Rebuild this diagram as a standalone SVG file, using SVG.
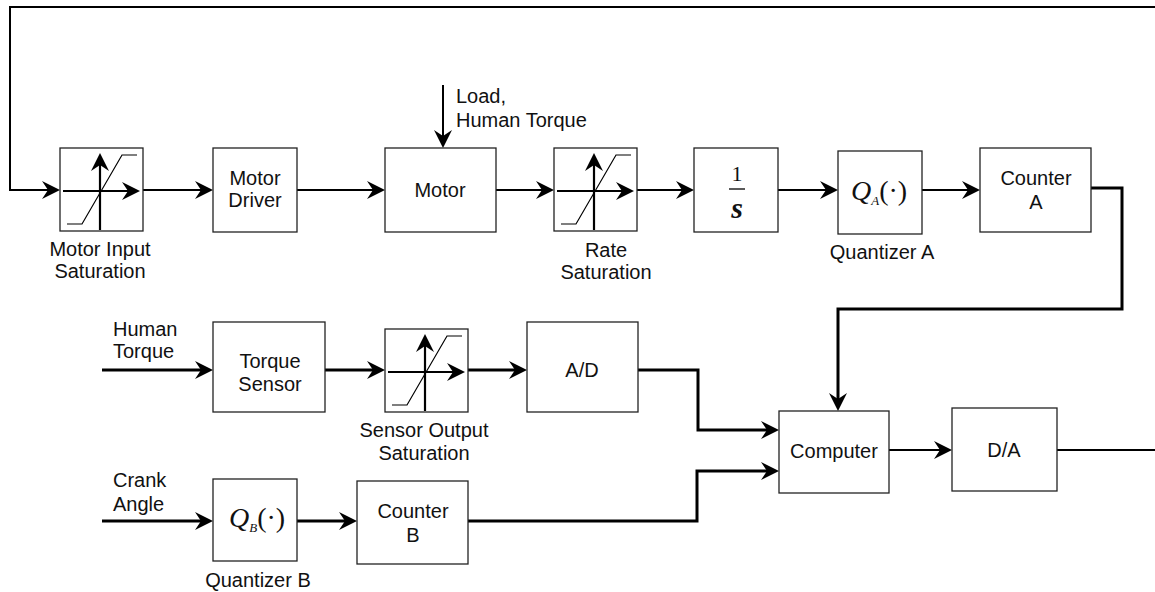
<svg xmlns="http://www.w3.org/2000/svg" width="1155" height="592" viewBox="0 0 1155 592">
<style>
.box{fill:#fff;stroke:#222;stroke-width:1.3}
.t{font-family:"Liberation Sans",Arial,sans-serif;font-size:20px;fill:#111;text-anchor:middle}
.tl{font-family:"Liberation Sans",Arial,sans-serif;font-size:20px;fill:#111}
.m{font-family:"Liberation Serif","Times New Roman",serif;fill:#111}
.w2{fill:none;stroke:#000;stroke-width:2}
.w3{fill:none;stroke:#000;stroke-width:3}
.ax{fill:none;stroke:#000;stroke-width:2.2}
.cv{fill:none;stroke:#000;stroke-width:1.2}
</style>
<defs>
<marker id="ah" markerUnits="userSpaceOnUse" markerWidth="26" markerHeight="26" viewBox="-22 -13 26 26" refX="-5" refY="0" orient="auto">
<path d="M0,0 L-18,-9 L-12,0 L-18,9 Z" fill="#000"/>
</marker>
<g id="sat">
<rect class="box" x="0" y="0" width="83" height="83"/>
<path class="cv" d="M7,76 L22,76 L62,7 L77,7"/>
<line class="ax" x1="40" y1="82" x2="40" y2="10" marker-end="url(#ah)"/>
<line class="ax" x1="3" y1="43" x2="75" y2="43" marker-end="url(#ah)"/>
</g>
</defs>

<g id="connectors">
<path class="w2" d="M1155,7 L10,7 L10,190 L55,190" marker-end="url(#ah)"/>
<line class="w2" x1="143" y1="190" x2="208" y2="190" marker-end="url(#ah)"/>
<line class="w2" x1="297" y1="190" x2="380" y2="190" marker-end="url(#ah)"/>
<line class="w2" x1="443" y1="85" x2="443" y2="143" marker-end="url(#ah)"/>
<line class="w2" x1="496" y1="190" x2="549" y2="190" marker-end="url(#ah)"/>
<line class="w2" x1="637" y1="190" x2="689" y2="190" marker-end="url(#ah)"/>
<line class="w2" x1="778" y1="190" x2="833" y2="190" marker-end="url(#ah)"/>
<line class="w2" x1="922" y1="190" x2="975" y2="190" marker-end="url(#ah)"/>
<path class="w3" d="M1091,188 L1122,188 L1122,309 L838,309 L838,406" marker-end="url(#ah)"/>
<line class="w3" x1="102" y1="370" x2="208" y2="370" marker-end="url(#ah)"/>
<line class="w3" x1="325" y1="370" x2="380" y2="370" marker-end="url(#ah)"/>
<line class="w3" x1="468" y1="370" x2="522" y2="370" marker-end="url(#ah)"/>
<path class="w3" d="M638,370 L698,370 L698,430 L774,430" marker-end="url(#ah)"/>
<line class="w3" x1="102" y1="521" x2="208" y2="521" marker-end="url(#ah)"/>
<line class="w3" x1="297" y1="521" x2="352" y2="521" marker-end="url(#ah)"/>
<path class="w3" d="M468,521 L697,521 L697,471 L774,471" marker-end="url(#ah)"/>
<line class="w2" x1="889" y1="450" x2="947" y2="450" marker-end="url(#ah)"/>
<line class="w2" x1="1057" y1="450" x2="1155" y2="450"/>
</g>

<g id="motor-input-saturation">
<use href="#sat" x="60" y="148"/>
<text class="t" x="100" y="256">Motor Input</text>
<text class="t" x="100" y="278">Saturation</text>
</g>
<g id="motor-driver">
<rect class="box" x="213" y="148" width="84" height="84"/>
<text class="t" x="255" y="185">Motor</text>
<text class="t" x="255" y="207">Driver</text>
</g>
<g id="motor">
<rect class="box" x="385" y="148" width="111" height="84"/>
<text class="t" x="440" y="197">Motor</text>
<text class="tl" x="456" y="103">Load,</text>
<text class="tl" x="456" y="127">Human Torque</text>
</g>
<g id="rate-saturation">
<use href="#sat" x="554" y="148"/>
<text class="t" x="606" y="257">Rate</text>
<text class="t" x="606" y="279">Saturation</text>
</g>
<g id="integrator">
<rect class="box" x="694" y="148" width="84" height="84"/>
<text class="m" x="737" y="181" font-size="22" text-anchor="middle">1</text>
<line x1="729" y1="189" x2="745" y2="189" stroke="#000" stroke-width="1.3"/>
<text class="m" x="737" y="218" font-size="30" font-style="italic" font-weight="bold" text-anchor="middle">s</text>
</g>
<g id="quantizer-a">
<rect class="box" x="838" y="151" width="84" height="83"/>
<text class="m" x="851" y="200" font-size="28"><tspan font-style="italic">Q</tspan><tspan font-style="italic" font-size="13" dy="5">A</tspan><tspan dy="-5">(·)</tspan></text>
<text class="t" x="882" y="259">Quantizer A</text>
</g>
<g id="counter-a">
<rect class="box" x="980" y="148" width="111" height="84"/>
<text class="t" x="1036" y="185">Counter</text>
<text class="t" x="1036" y="209">A</text>
</g>

<g id="human-torque-input">
<text class="tl" x="113" y="336">Human</text>
<text class="tl" x="113" y="358">Torque</text>
</g>
<g id="torque-sensor">
<rect class="box" x="213" y="322" width="112" height="90"/>
<text class="t" x="270" y="368">Torque</text>
<text class="t" x="270" y="391">Sensor</text>
</g>
<g id="sensor-output-saturation">
<use href="#sat" x="385" y="329"/>
<text class="t" x="424" y="437">Sensor Output</text>
<text class="t" x="424" y="460">Saturation</text>
</g>
<g id="ad">
<rect class="box" x="527" y="322" width="111" height="90"/>
<text class="t" x="582" y="377">A/D</text>
</g>
<g id="computer">
<rect class="box" x="779" y="411" width="110" height="82"/>
<text class="t" x="834" y="458">Computer</text>
</g>
<g id="da">
<rect class="box" x="952" y="408" width="105" height="83"/>
<text class="t" x="1004" y="457">D/A</text>
</g>
<g id="crank-angle-input">
<text class="tl" x="113" y="487">Crank</text>
<text class="tl" x="113" y="511">Angle</text>
</g>
<g id="quantizer-b">
<rect class="box" x="213" y="479" width="84" height="82"/>
<text class="m" x="229" y="527" font-size="28"><tspan font-style="italic">Q</tspan><tspan font-style="italic" font-size="13" dy="5">B</tspan><tspan dy="-5">(·)</tspan></text>
<text class="t" x="258" y="587">Quantizer B</text>
</g>
<g id="counter-b">
<rect class="box" x="357" y="481" width="111" height="83"/>
<text class="t" x="413" y="518">Counter</text>
<text class="t" x="413" y="542">B</text>
</g>
</svg>
